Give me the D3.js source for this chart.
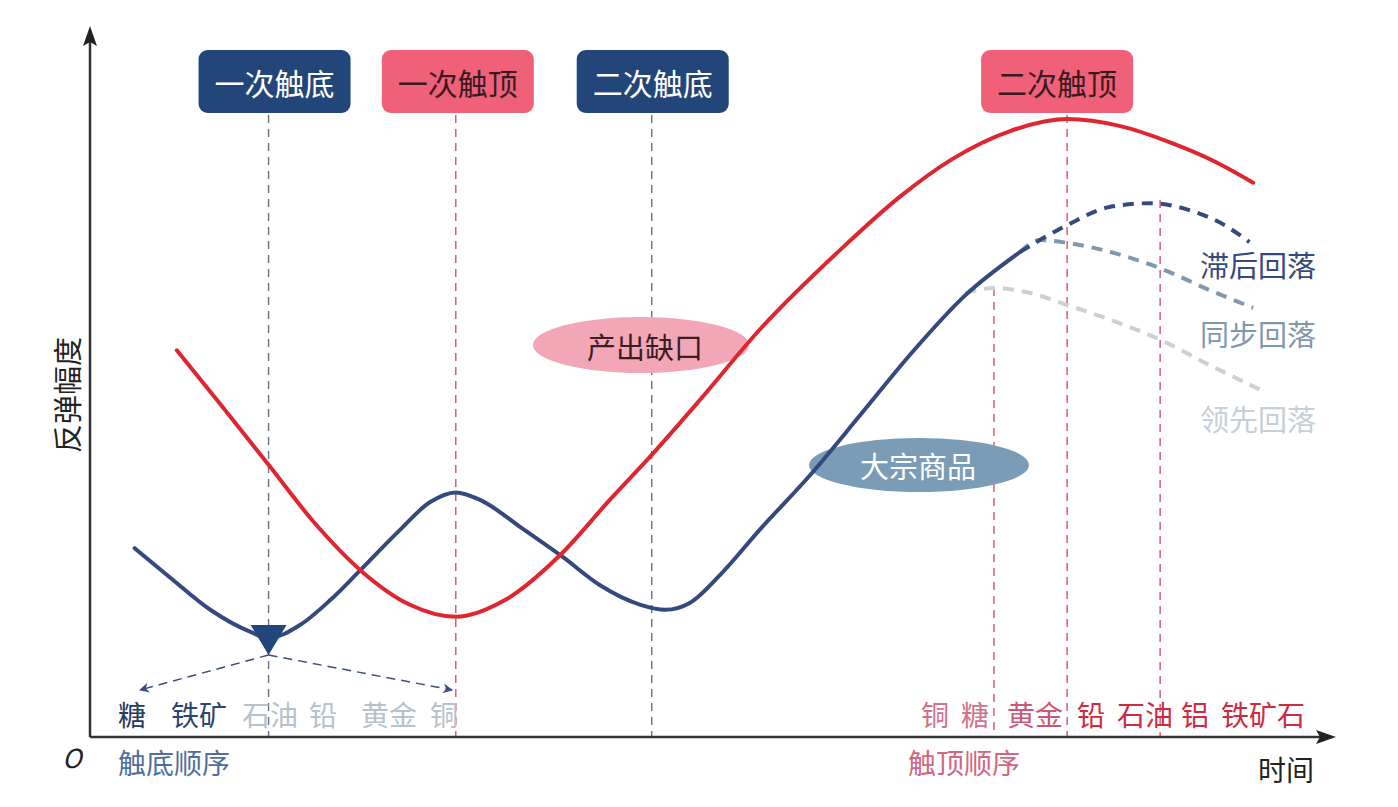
<!DOCTYPE html>
<html>
<head>
<meta charset="utf-8">
<script src="https://cdn.jsdelivr.net/npm/d3@7"></script>
<style>
  body { margin: 0; background: #fff; }
  text { font-family: "Noto Sans CJK SC", sans-serif; }
</style>
</head>
<body>
<div id="chart"></div>
<script>
// Curves: [time, amplitude] in chart units (0-100)
let outputGap = [
    [7.0, 54.7], [10.6, 46.9], [14.4, 38.5], [18.1, 30.3], [21.8, 23.6],
    [25.8, 18.7], [29.5, 17.0], [33.5, 19.4], [37.9, 25.7], [41.9, 33.5],
    [45.3, 39.9], [49.2, 47.7], [54.0, 57.6], [60.5, 68.9], [65.3, 76.4],
    [69.4, 81.6], [74.2, 85.7], [78.8, 87.4], [83.1, 86.4], [87.1, 84.1],
    [90.7, 81.4], [93.8, 78.4]
];
let commodity = [
    [3.6, 26.7], [6.5, 22.5], [9.7, 18.0], [12.9, 14.9], [14.4, 14.0],
    [16.9, 15.8], [19.4, 19.4], [21.8, 23.6], [25.0, 29.3], [27.4, 33.2],
    [29.5, 34.6], [31.5, 33.5], [34.7, 29.7], [38.1, 25.5], [41.1, 21.5],
    [44.4, 18.7], [46.4, 18.0], [48.4, 19.0], [50.8, 22.9], [54.0, 29.3],
    [58.1, 37.1], [62.1, 45.5], [66.1, 54.0], [70.6, 62.5], [75.0, 68.6]
];
let lagFall = [
    [75.0, 68.6], [78.8, 72.4], [82.3, 75.0], [85.5, 75.5], [88.7, 74.5],
    [91.5, 72.4], [93.5, 70.0]
];
let syncFall = [
    [75.0, 68.6], [76.6, 70.3], [78.8, 69.9], [82.3, 68.6], [86.3, 66.3],
    [90.3, 63.2], [93.8, 60.7]
];
let leadFall = [
    [70.6, 62.8], [72.9, 63.5], [75.8, 62.8], [78.8, 61.1], [82.3, 59.0],
    [86.3, 56.2], [90.3, 52.6], [94.4, 49.1]
];

// Turning points
let events = [
    { name: "一次触底", t: 14.4, kind: "bottom" },
    { name: "一次触顶", t: 29.5, kind: "top" },
    { name: "二次触底", t: 45.3, kind: "bottom" },
    { name: "二次触顶", t: 78.8, kind: "top" }
];
let topMarks = [72.9, 86.3];

// Order in which commodities hit bottom / top
let bottomOrder = ["糖", "铁矿", "石油", "铅", "黄金", "铜"];
let topOrder = ["铜", "糖", "黄金", "铅", "石油", "铝", "铁矿石"];
let fallLabels = ["滞后回落", "同步回落", "领先回落"];

let width = 1398;
let height = 807;

let x = d3.scaleLinear().domain([0, 100]).range([90, 1330]);
let y = d3.scaleLinear().domain([0, 100]).range([737, 30]);

let navy = "#22467a";
let pink = "#f06079";
let red = "#de2631";
let blue = "#34497e";

let svg = d3.select("#chart").append("svg")
    .attr("width", width)
    .attr("height", height);

let defs = svg.append("defs");
defs.append("marker")
    .attr("id", "arr")
    .attr("viewBox", "0 0 10 10")
    .attr("refX", 9).attr("refY", 5)
    .attr("markerWidth", 12).attr("markerHeight", 10)
    .attr("markerUnits", "userSpaceOnUse")
    .attr("orient", "auto")
    .append("path")
    .attr("d", "M0,0 L10,5 L0,10 L3,5 Z")
    .attr("fill", "#3c4f7a");

// Vertical dashed guides
events.forEach((e) => {
    svg.append("line")
        .attr("x1", x(e.t)).attr("x2", x(e.t))
        .attr("y1", 115).attr("y2", y(0))
        .attr("stroke", e.kind === "top" ? "#d8506a" : "#6b7080")
        .attr("stroke-width", 1.4)
        .attr("stroke-dasharray", "8,6");
});
topMarks.forEach((t, i) => {
    svg.append("line")
        .attr("x1", x(t)).attr("x2", x(t))
        .attr("y1", i === 0 ? 288 : 200).attr("y2", y(0))
        .attr("stroke", "#d8506a")
        .attr("stroke-width", 1.4)
        .attr("stroke-dasharray", "8,6");
});

// Ellipse labels
svg.append("ellipse")
    .attr("cx", 641).attr("cy", 345).attr("rx", 108).attr("ry", 28)
    .attr("fill", "#f3a6b5");
svg.append("text")
    .attr("x", 645).attr("y", 346)
    .attr("text-anchor", "middle").attr("dominant-baseline", "central")
    .attr("font-size", 29).attr("fill", "#3b1d24")
    .text("产出缺口");

svg.append("ellipse")
    .attr("cx", 919).attr("cy", 465).attr("rx", 110).attr("ry", 27)
    .attr("fill", "#7b9cb6");
svg.append("text")
    .attr("x", 918).attr("y", 465)
    .attr("text-anchor", "middle").attr("dominant-baseline", "central")
    .attr("font-size", 29).attr("fill", "#fff")
    .text("大宗商品");

let line = d3.line()
    .x((d) => x(d[0]))
    .y((d) => y(d[1]))
    .curve(d3.curveMonotoneX);

// Dashed fall-back paths
let falls = [
    { data: leadFall, color: "#c9d1d6" },
    { data: syncFall, color: "#7f98ad" },
    { data: lagFall, color: "#34497e" }
];
falls.forEach((f) => {
    svg.append("path")
        .attr("d", line(f.data))
        .attr("fill", "none")
        .attr("stroke", f.color)
        .attr("stroke-width", 4)
        .attr("stroke-dasharray", "11,8");
});

svg.append("path")
    .attr("d", line(commodity))
    .attr("fill", "none")
    .attr("stroke", blue)
    .attr("stroke-width", 4)
    .attr("stroke-linecap", "round");

svg.append("path")
    .attr("d", line(outputGap))
    .attr("fill", "none")
    .attr("stroke", red)
    .attr("stroke-width", 4)
    .attr("stroke-linecap", "round");

// Bottom marker with spreading arrows
let tipX = x(events[0].t);
svg.append("path")
    .attr("d", `M${tipX - 18},625 L${tipX + 18},625 L${tipX},655 Z`)
    .attr("fill", navy);
[[140, 690], [452, 690]].forEach((p) => {
    svg.append("line")
        .attr("x1", tipX).attr("y1", 655)
        .attr("x2", p[0]).attr("y2", p[1])
        .attr("stroke", "#3c4f7a")
        .attr("stroke-width", 1.5)
        .attr("stroke-dasharray", "9,6")
        .attr("marker-end", "url(#arr)");
});

// Event boxes (slightly off-centre from their guide lines, as drawn)
let boxShift = [6, 2, 1, -10];
events.forEach((e, i) => {
    let cx = x(e.t) + boxShift[i];
    let bg = e.kind === "top" ? pink : navy;
    svg.append("rect")
        .attr("x", cx - 76).attr("y", 50)
        .attr("width", 152).attr("height", 63)
        .attr("rx", 9)
        .attr("fill", bg);
    svg.append("text")
        .attr("x", cx).attr("y", 82)
        .attr("text-anchor", "middle").attr("dominant-baseline", "central")
        .attr("font-size", 30)
        .attr("fill", e.kind === "top" ? "#3a1a22" : "#fff")
        .text(e.name);
});

// Axes
svg.append("line")
    .attr("x1", x(0)).attr("x2", x(0))
    .attr("y1", y(0)).attr("y2", 40)
    .attr("stroke", "#333").attr("stroke-width", 2.5);
svg.append("path")
    .attr("d", `M${x(0)},26 L${x(0) + 7},46 L${x(0)},42 L${x(0) - 7},46 Z`)
    .attr("fill", "#222");
svg.append("line")
    .attr("x1", x(0)).attr("x2", 1320)
    .attr("y1", y(0)).attr("y2", y(0))
    .attr("stroke", "#333").attr("stroke-width", 2.5);
svg.append("path")
    .attr("d", `M1336,${y(0)} L1316,${y(0) - 7} L1320,${y(0)} L1316,${y(0) + 7} Z`)
    .attr("fill", "#222");

svg.append("text")
    .attr("x", 72).attr("y", 756)
    .attr("text-anchor", "middle").attr("dominant-baseline", "central")
    .attr("font-size", 26).attr("font-style", "italic")
    .attr("font-family", "'Liberation Serif', serif")
    .attr("fill", "#222")
    .text("O");

svg.append("text")
    .attr("transform", "translate(66,395) rotate(-90)")
    .attr("text-anchor", "middle").attr("dominant-baseline", "central")
    .attr("font-size", 29).attr("fill", "#222")
    .text("反弹幅度");

svg.append("text")
    .attr("x", 1286).attr("y", 769)
    .attr("text-anchor", "middle").attr("dominant-baseline", "central")
    .attr("font-size", 28).attr("fill", "#222")
    .text("时间");

// Bottom order labels
let bottomX = [132, 199, 270, 323, 389, 444];
let bottomColors = ["#263a66", "#2f4470", "#b5c2cb", "#b5c2cb", "#b5c2cb", "#b5c2cb"];
bottomOrder.forEach((s, i) => {
    svg.append("text")
        .attr("x", bottomX[i]).attr("y", 714)
        .attr("text-anchor", "middle").attr("dominant-baseline", "central")
        .attr("font-size", 28).attr("fill", bottomColors[i])
        .text(s);
});
svg.append("text")
    .attr("x", 118).attr("y", 762)
    .attr("dominant-baseline", "central")
    .attr("font-size", 28).attr("fill", "#4f6e9d")
    .text("触底顺序");

let topX = [935, 975, 1035, 1091, 1145, 1195, 1263];
let topColors = ["#d27089", "#d27089", "#cc5675", "#cc2b40", "#cc2b40", "#cc2b40", "#cc2b40"];
topOrder.forEach((s, i) => {
    svg.append("text")
        .attr("x", topX[i]).attr("y", 714)
        .attr("text-anchor", "middle").attr("dominant-baseline", "central")
        .attr("font-size", 28).attr("fill", topColors[i])
        .text(s);
});
svg.append("text")
    .attr("x", 908).attr("y", 762)
    .attr("dominant-baseline", "central")
    .attr("font-size", 28).attr("fill", "#d3657f")
    .text("触顶顺序");

// Fall-back labels
let fallY = [264, 333, 418];
let fallColors = ["#34497e", "#7f98ad", "#c5cfd5"];
fallLabels.forEach((s, i) => {
    svg.append("text")
        .attr("x", 1200).attr("y", fallY[i])
        .attr("dominant-baseline", "central")
        .attr("font-size", 29).attr("fill", fallColors[i])
        .text(s);
});
</script>
</body>
</html>
